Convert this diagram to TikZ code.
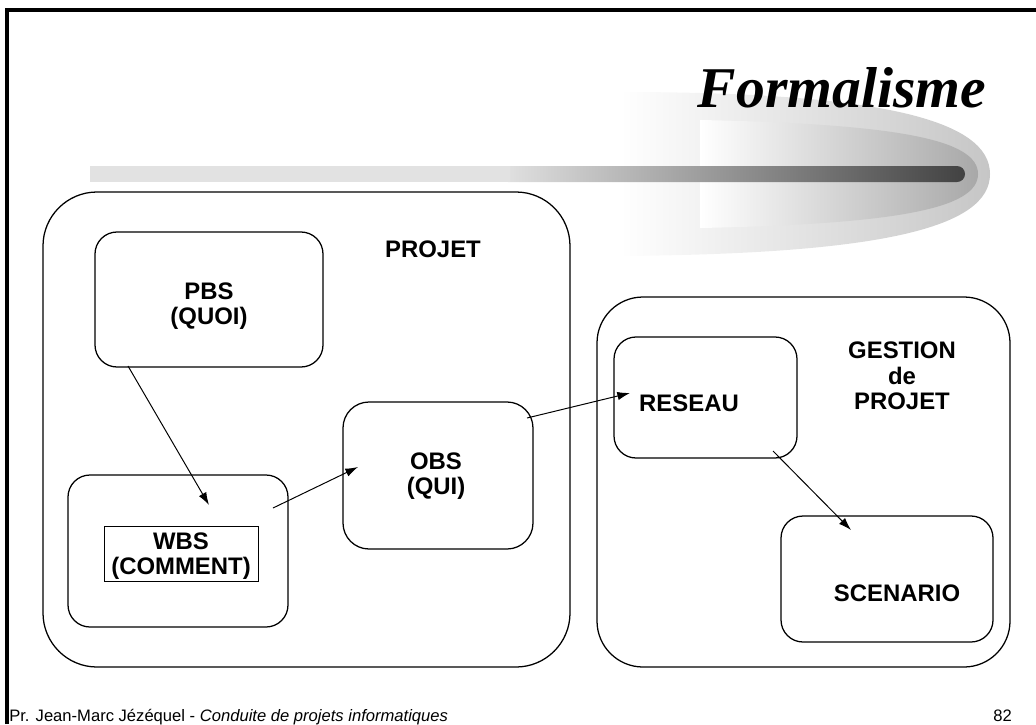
\documentclass[tikz,border=0pt]{standalone}
\usepackage{fontspec}
\setmainfont{Liberation Sans}
\newfontfamily\titlefont{Liberation Serif}
\usetikzlibrary{arrows.meta,fit}
\definecolor{halo}{RGB}{198,198,198}
\definecolor{halomid}{RGB}{168,168,168}
\definecolor{barlight}{RGB}{226,226,226}
\definecolor{bardark}{RGB}{66,66,66}
\newcommand{\drawthick}{\draw[line width=2.2pt]}
\tikzset{
  bigbox/.style={draw,line width=0.9pt,rounded corners=1.35cm,inner sep=0pt},
  smallbox/.style={draw,line width=0.9pt,rounded corners=0.55cm,inner sep=0pt},
  lbl/.style={font=\fontsize{17}{18}\selectfont\bfseries,align=center,inner sep=0pt},
  conn/.style={line width=0.7pt,-{Latex[length=9pt,width=6pt]}}
}

\begin{document}
\begin{tikzpicture}[x=0.025cm,y=-0.025cm]
\useasboundingbox (0,0) rectangle (1036,724);
\drawthick (7,724)--(7,10)--(1036,10);
\shade[left color=white,right color=halo] (620,92) .. controls (880,92) and (990,120) .. (990,174) .. controls (990,228) and (880,254) .. (620,256) -- cycle;
\shade[left color=white,right color=halomid] (700,120) .. controls (900,124) and (978,140) .. (978,174) .. controls (978,208) and (900,224) .. (700,228) -- cycle;
\shade[left color=barlight,right color=bardark,rounded corners=0.2cm] (500,166) rectangle (965,182);
\fill[barlight] (90,166) rectangle (510,182);
\node[font=\titlefont\fontsize{41}{41}\selectfont\bfseries\itshape,anchor=base,inner sep=0pt] (titre) at (842,107) {Formalisme};
\node[bigbox,fit={(43,192) (570,667)}] (projet) {};
\node[bigbox,rounded corners=1.15cm,fit={(597,297) (1010,667)}] (gestion) {};
\node[smallbox,fit={(95,232) (323,367)}] (pbs) {};
\node[smallbox,fit={(68,475) (288,627)}] (wbsbox) {};
\node[smallbox,rounded corners=0.65cm,fit={(343,402) (533,549)}] (obs) {};
\node[smallbox,fit={(614,337) (797,458)}] (reseau) {};
\node[smallbox,fit={(781,516) (993,642)}] (scenario) {};
\node[draw,line width=0.6pt,minimum width=3.85cm,minimum height=1.375cm] (wbs) at (181,554) {};
\node[lbl] (projetlbl) at (433,249) {PROJET};
\node[lbl] (pbslbl) at (209,306) {PBS\\(QUOI)};
\node[lbl] (obslbl) at (436,476) {OBS\\(QUI)};
\node[lbl] (wbslbl) at (181,556) {WBS\\(COMMENT)};
\node[lbl] (reseaulbl) at (689,403) {RESEAU};
\node[lbl] (gestionlbl) at (902,376) {GESTION\\de\\PROJET};
\node[lbl] (scenariolbl) at (897,593) {SCENARIO};
\coordinate (pbsout) at (128,366);
\coordinate (wbsin) at (209,505);
\coordinate (wbsout) at (273,508);
\coordinate (obsin) at (358,467);
\coordinate (obsout) at (527,418);
\coordinate (reseauin) at (630,393);
\coordinate (reseauout) at (773,451);
\coordinate (scenarioin) at (851,530);
\draw[conn] (pbsout)--(wbsin);
\draw[conn] (wbsout)--(obsin);
\draw[conn] (obsout)--(reseauin);
\draw[conn] (reseauout)--(scenarioin);
\node[anchor=base west,inner sep=0pt,font=\fontsize{11.8}{12}\selectfont] (pied) at (9,721) {Pr. Jean-Marc Jézéquel - \textit{Conduite de projets informatiques}};
\node[anchor=base east,inner sep=0pt,font=\fontsize{11.8}{12}\selectfont] (page) at (1012,721) {82};
\end{tikzpicture}
\end{document}
